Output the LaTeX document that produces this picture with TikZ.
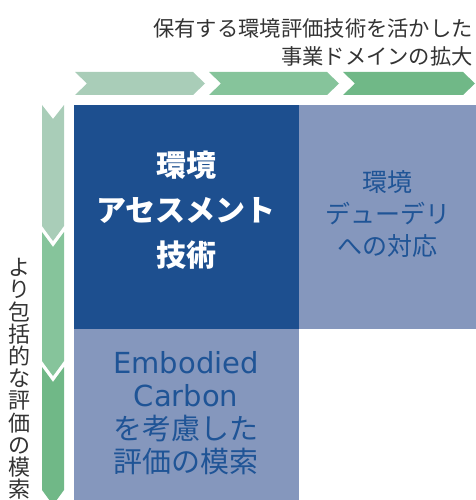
\documentclass[tikz,border=0pt]{standalone}
\usepackage{fontspec}
\setmainfont{Noto Sans CJK JP}
\newfontfamily\latinfont{DejaVu Sans}
\definecolor{navy}{HTML}{1D4F8F}
\definecolor{slate}{HTML}{8597BD}
\definecolor{txtblue}{HTML}{1F5496}
\definecolor{txtgray}{HTML}{333333}
\definecolor{greenA}{HTML}{A9CDB8}
\definecolor{greenB}{HTML}{86C49B}
\definecolor{greenC}{HTML}{70B887}
\tikzset{
  box/.style={rectangle, inner sep=0pt, outer sep=0pt},
  boldlbl/.style={align=center, text=white, inner sep=0pt, font=\fontsize{30}{45}\selectfont\bfseries},
  sidelbl/.style={align=center, text=txtblue, inner sep=0pt, font=\fontsize{25}{32}\selectfont},
  botlbl/.style={align=center, text=txtblue, inner sep=0pt, font=\fontsize{29}{33}\selectfont},
  toplbl/.style={align=right, text=txtgray, inner sep=0pt, font=\fontsize{21.3}{28}\selectfont},
  vertlbl/.style={align=center, text=txtgray, inner sep=0pt, font=\fontsize{22}{22.2}\selectfont},
}
\begin{document}
\begin{tikzpicture}[x=1pt,y=-1pt]
\useasboundingbox (0,0) rectangle (475,500);
% top chevrons
\fill[greenA] (75,72) -- (193,72) -- (205,83.5) -- (193,95) -- (75,95) -- (87,83.5) -- cycle;
\fill[greenB] (209,72) -- (327,72) -- (339,83.5) -- (327,95) -- (209,95) -- (221,83.5) -- cycle;
\fill[greenC] (343,72) -- (463,72) -- (475,83.5) -- (463,95) -- (343,95) -- (355,83.5) -- cycle;
% left chevrons
\fill[greenA] (42,105) -- (53,119) -- (64,105) -- (64,226) -- (53,241) -- (42,226) -- cycle;
\fill[greenB] (42,232) -- (53,247) -- (64,232) -- (64,361) -- (53,376) -- (42,361) -- cycle;
\fill[greenC] (42,367) -- (53,382) -- (64,367) -- (64,490) -- (53,505) -- (42,490) -- cycle;
% boxes
\node[box, fill=navy, minimum width=225pt, minimum height=224pt] (main) at (186.5,217) {};
\node[box, fill=slate, minimum width=177pt, minimum height=224pt] (right) at (387.5,217) {};
\node[box, fill=slate, minimum width=225pt, minimum height=172pt] (bottom) at (186.5,415) {};
% labels
\node[boldlbl] (mainlbl) at (186,210) {環境\\アセスメント\\技術};
\node[sidelbl] (rightlbl) at (387.5,214) {環境\\デューデリ\\への対応};
\node[botlbl] (bottomlbl) at (186,413) {{\latinfont Embodied}\\{\latinfont Carbon}\\を考慮した\\評価の模索};
\node[toplbl, anchor=east] (toplbl) at (473,42) {保有する環境評価技術を活かした\\事業ドメインの拡大};
\node[vertlbl] (vertlbl) at (20,379) {よ\\り\\包\\括\\的\\な\\評\\価\\の\\模\\索};
\end{tikzpicture}
\end{document}
